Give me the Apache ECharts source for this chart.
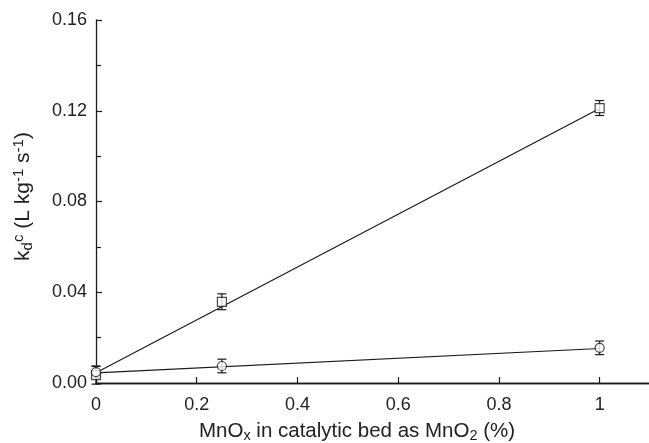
<!DOCTYPE html>
<html><head><meta charset="utf-8">
<script src="https://cdn.jsdelivr.net/npm/echarts@6/dist/echarts.min.js"></script>
<style>html,body{margin:0;padding:0;background:#fff}#c{width:649px;height:443px}</style>
</head><body><div id="c"></div>
<script>
const xValues = [0, 0.25, 1];
const squareY = [0.0035, 0.0358, 0.1212];
const squareErr = [0.004, 0.0035, 0.0033];
const circleY = [0.0048, 0.0075, 0.0155];
const circleErr = [0.0025, 0.003, 0.003];
const fitX = [0, 1];
const squareFit = [0.0045, 0.121];
const circleFit = [0.0045, 0.0152];

const ink = '#1a1a1a';
const font = 'Liberation Sans, Arial, sans-serif';

function errData(ys, es) { return xValues.map((x, i) => [x, ys[i] - es[i], ys[i] + es[i]]); }
function errSeries(ys, es) {
  return {
    type: 'custom', z: 3,
    data: errData(ys, es),
    encode: { x: 0, y: [1, 2] },
    renderItem: function (params, api) {
      const lo = api.coord([api.value(0), api.value(1)]);
      const hi = api.coord([api.value(0), api.value(2)]);
      const w = 4.5;
      const st = { stroke: ink, lineWidth: 1.2, fill: null };
      return { type: 'group', children: [
        { type: 'line', shape: { x1: lo[0], y1: lo[1], x2: hi[0], y2: hi[1] }, style: st },
        { type: 'line', shape: { x1: lo[0] - w, y1: lo[1], x2: lo[0] + w, y2: lo[1] }, style: st },
        { type: 'line', shape: { x1: hi[0] - w, y1: hi[1], x2: hi[0] + w, y2: hi[1] }, style: st }
      ]};
    }
  };
}

const chart = echarts.init(document.getElementById('c'), null, { renderer: 'canvas' });
chart.setOption({
  animation: false,
  textStyle: { fontFamily: font },
  grid: { left: 96, right: -1, top: 20, bottom: 60, containLabel: false, outerBoundsMode: 'none' },
  xAxis: [{
    type: 'value', min: 0, max: 1.1, interval: 0.2,
    axisLine: { show: true, onZero: false, lineStyle: { color: ink, width: 1.3 } },
    axisTick: { show: true, inside: true, length: 6, lineStyle: { color: ink, width: 1.2 } },
    axisLabel: { color: '#222', fontSize: 18, margin: 13, fontFamily: font, showMaxLabel: false,
      formatter: v => (v > 1.001 ? '' : String(+v.toFixed(1))) },
    splitLine: { show: false },
    name: '{n|MnO}{sub|x}{n| in catalytic bed as MnO}{sub|2}{n| (%)}',
    nameLocation: 'middle', nameGap: 36,
    nameTextStyle: { padding: [0, 32, 0, 0], rich: {
      n: { fontSize: 20.5, color: '#222', fontFamily: font },
      sub: { fontSize: 14.5, color: '#222', fontFamily: font, padding: [9, 0, 0, 0] }
    } }
  }, {
    type: 'value', position: 'top', min: 0, max: 1.1,
    axisLine: { show: true, lineStyle: { color: ink, width: 1.3 } },
    axisTick: { show: false }, axisLabel: { show: false }, splitLine: { show: false }
  }],
  yAxis: {
    type: 'value', min: 0, max: 0.16, interval: 0.04,
    axisLine: { show: true, lineStyle: { color: ink, width: 1.3 } },
    axisTick: { show: true, inside: true, length: 6, lineStyle: { color: ink, width: 1.2 } },
    minorTick: { show: true, splitNumber: 2, length: 5, lineStyle: { color: ink, width: 1.2 } },
    axisLabel: { color: '#222', fontSize: 18, margin: 9, fontFamily: font, formatter: v => v.toFixed(2) },
    splitLine: { show: false },
    name: '{n|k}{sub|d}{sup|c}{n| (L kg}{sup|-1}{n| s}{sup|-1}{n|)}',
    nameLocation: 'middle', nameGap: 60, nameRotate: 90,
    nameTextStyle: { padding: [0, 0, 0, 10], rich: {
      n: { fontSize: 21, color: '#222', fontFamily: font },
      sub: { fontSize: 15, color: '#222', fontFamily: font, padding: [9, 0, 0, 0] },
      sup: { fontSize: 15, color: '#222', fontFamily: font, padding: [0, 0, 10, 0] }
    } }
  },
  series: [
    { type: 'line', data: fitX.map((x, i) => [x, squareFit[i]]), showSymbol: false, symbol: 'none',
      lineStyle: { color: ink, width: 1.2 }, z: 2 },
    { type: 'line', data: fitX.map((x, i) => [x, circleFit[i]]), showSymbol: false, symbol: 'none',
      lineStyle: { color: ink, width: 1.2 }, z: 2 },
    errSeries(squareY, squareErr),
    errSeries(circleY, circleErr),
    { type: 'scatter', data: xValues.map((x, i) => [x, squareY[i]]), symbol: 'rect', symbolSize: 9,
      itemStyle: { color: '#fff', borderColor: ink, borderWidth: 1.2 }, z: 4 },
    { type: 'scatter', data: xValues.map((x, i) => [x, circleY[i]]), symbol: 'circle', symbolSize: 9,
      itemStyle: { color: '#fff', borderColor: ink, borderWidth: 1.2 }, z: 4 }
  ]
});
</script></body></html>
